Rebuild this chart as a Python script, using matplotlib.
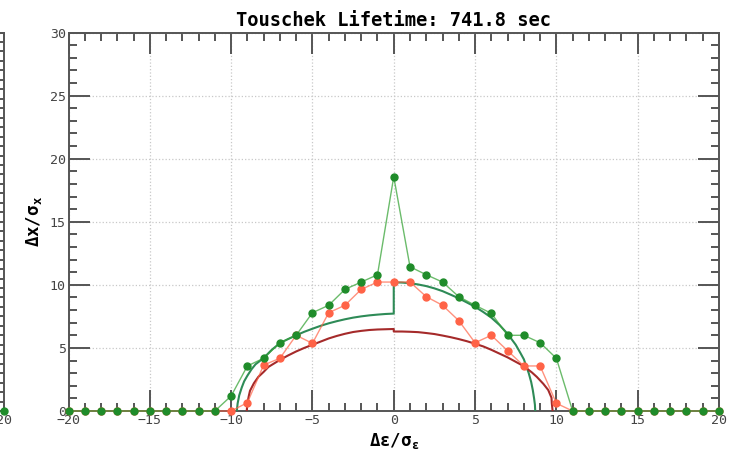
import matplotlib
matplotlib.use("Agg")
import matplotlib.pyplot as plt
from matplotlib.ticker import MultipleLocator, FuncFormatter

plt.rcParams['mathtext.fontset'] = 'custom'
plt.rcParams['mathtext.rm'] = 'DejaVu Sans Mono'
plt.rcParams['mathtext.it'] = 'DejaVu Sans Mono'
plt.rcParams['mathtext.bf'] = 'DejaVu Sans Mono:bold'

# tracked energy offsets (units of sigma_e)
delta_e = [-20, -19, -18, -17, -16, -15, -14, -13, -12, -11,
           -10, -9, -8, -7, -6, -5, -4, -3, -2, -1, 0,
           1, 2, 3, 4, 5, 6, 7, 8, 9, 10,
           11, 12, 13, 14, 15, 16, 17, 18, 19, 20]

# surviving amplitude, first tracking set
amp_green = [0, 0, 0, 0, 0, 0, 0, 0, 0, 0,
             1.19, 3.57, 4.18, 5.41, 6.0, 7.79, 8.38, 9.64, 10.22, 10.8, 18.57,
             11.43, 10.8, 10.22, 9.06, 8.38, 7.74, 6.0, 6.0, 5.41, 4.18,
             0, 0, 0, 0, 0, 0, 0, 0, 0, 0]

# surviving amplitude, second tracking set
amp_red = [0, 0, 0, 0, 0, 0, 0, 0, 0, 0,
           0, 0.66, 3.64, 4.18, 6.0, 5.36, 7.79, 8.38, 9.64, 10.22, 10.22,
           10.22, 9.06, 8.38, 7.16, 5.41, 6.0, 4.78, 3.57, 3.57, 0.61,
           0, 0, 0, 0, 0, 0, 0, 0, 0, 0]

# aperture boundary, outer
bound_g_x = [-9.65, -9.6, -9.5, -9.35, -9.2, -9.0, -8.75, -8.5, -8.0, -7.5,
             -7.0, -6.5, -6.0, -5.5, -5.0, -4.5, -4.0, -3.5, -3.0, -2.5,
             -2.0, -1.5, -1.0, -0.5, 0.0,
             0.0, 0.5, 1.0, 1.5, 2.0, 2.5, 3.0, 3.5, 4.0, 4.5,
             5.0, 5.5, 6.0, 6.5, 7.0, 7.5, 7.8, 8.0, 8.3, 8.45,
             8.55, 8.63, 8.68, 8.7]
bound_g_y = [0.0, 0.6, 1.25, 1.85, 2.35, 2.8, 3.3, 3.7, 4.2, 4.85,
             5.38, 5.7, 6.0, 6.28, 6.52, 6.75, 6.95, 7.12, 7.27, 7.4,
             7.5, 7.58, 7.64, 7.69, 7.72,
             10.2, 10.18, 10.13, 10.03, 9.9, 9.72, 9.5, 9.22, 8.93, 8.6,
             8.26, 7.85, 7.4, 6.82, 6.12, 5.25, 4.57, 4.1, 3.0, 2.3,
             1.66, 1.0, 0.5, 0.0]

# aperture boundary, inner
bound_r_x = [-9.04, -9.0, -8.92, -8.84, -8.6, -8.33, -8.0, -7.7, -7.0, -6.5,
             -6.0, -5.5, -5.0, -4.5, -4.0, -3.5, -3.0, -2.5, -2.0, -1.5,
             -1.0, -0.5, 0.0,
             0.0, 0.5, 1.0, 1.5, 2.0, 2.5, 3.0, 3.5, 4.0, 4.5,
             5.0, 5.5, 6.0, 6.5, 7.0, 7.5, 8.0, 8.5, 8.8, 9.2,
             9.5, 9.7, 9.72, 9.77]
bound_r_y = [0.0, 0.6, 1.15, 1.6, 2.2, 2.7, 3.1, 3.5, 4.05, 4.4,
             4.72, 5.0, 5.25, 5.5, 5.75, 5.95, 6.12, 6.26, 6.35, 6.42,
             6.46, 6.48, 6.5,
             6.3, 6.3, 6.28, 6.25, 6.18, 6.1, 5.98, 5.85, 5.7, 5.53,
             5.33, 5.12, 4.85, 4.55, 4.25, 3.9, 3.55, 3.05, 2.7, 2.15,
             1.66, 1.05, 0.6, 0.0]

title_text = "Touschek Lifetime: 741.8 sec"
x_label = r"$\mathbf{Δε/σ_ε}$"
y_label = r"$\mathbf{Δx/σ_x}$"

GREEN = "#1f8c2a"
TOMATO = "#ff6347"
SPINE = "#555555"
TICKLBL = "#444444"

fig = plt.figure(figsize=(7.36, 4.55), dpi=100)
W, H = 736.0, 455.0
ax_l, ax_r, ax_t, ax_b = 68.5, 719.0, 32.5, 411.0
ax = fig.add_axes([ax_l / W, 1 - ax_b / H, (ax_r - ax_l) / W, (ax_b - ax_t) / H])

# neighbouring panel, only its right edge falls inside the figure
edge = 4.0
axn = fig.add_axes([(edge - (ax_r - ax_l)) / W, 1 - ax_b / H, (ax_r - ax_l) / W, (ax_b - ax_t) / H])


def style(a, ymax, yminor):
    a.set_xlim(-20, 20)
    a.set_ylim(0, ymax)
    a.xaxis.set_major_locator(MultipleLocator(5))
    a.xaxis.set_minor_locator(MultipleLocator(1))
    a.yaxis.set_major_locator(MultipleLocator(5))
    a.yaxis.set_minor_locator(MultipleLocator(yminor))
    a.tick_params(which='both', direction='in', top=True, right=True,
                  color=SPINE, width=1.4, labelcolor=TICKLBL)
    a.tick_params(which='major', length=15, labelsize=9.5, pad=2)
    a.tick_params(which='minor', length=6)
    for s in a.spines.values():
        s.set_color(SPINE)
        s.set_linewidth(1.4)
    a.grid(True, which='major', color='#c8c8c8', linestyle=':', linewidth=0.9)
    a.set_axisbelow(True)


style(ax, 30, 1)
for lbl in ax.get_xticklabels() + ax.get_yticklabels():
    lbl.set_fontfamily('DejaVu Sans Mono')

style(axn, 40, 1)
axn.tick_params(which='major', length=6)
axn.tick_params(axis='y', labelleft=False)
axn.xaxis.set_major_formatter(FuncFormatter(lambda v, p: f"{v:.0f}" if v > 15 else ""))
for lbl in axn.get_xticklabels():
    lbl.set_fontfamily('DejaVu Sans Mono')
axn.plot([delta_e[-1]], [amp_green[-1]], 'o', color=GREEN, ms=5, clip_on=False, zorder=5)

ax.plot(bound_g_x, bound_g_y, color="#2e8b57", lw=1.5, zorder=3)
ax.plot(bound_r_x, bound_r_y, color="#a52a2a", lw=1.5, zorder=3)
ax.plot(delta_e, amp_red, '-', color=TOMATO, lw=1.0, alpha=0.7, zorder=4, clip_on=False)
ax.plot(delta_e, amp_red, 'o', color=TOMATO, ms=5, zorder=4, clip_on=False)
ax.plot(delta_e, amp_green, '-', color="#3aa53a", lw=1.0, alpha=0.75, zorder=5, clip_on=False)
ax.plot(delta_e, amp_green, 'o', color=GREEN, ms=5, zorder=5, clip_on=False)

ax.set_title(title_text, fontfamily='DejaVu Sans Mono', fontweight='bold',
             fontsize=13.5, pad=5)
ax.set_xlabel(x_label, fontsize=12.5, labelpad=3)
ax.set_ylabel(y_label, fontsize=12.5, labelpad=4)

fig.savefig("out.png", dpi=100)
